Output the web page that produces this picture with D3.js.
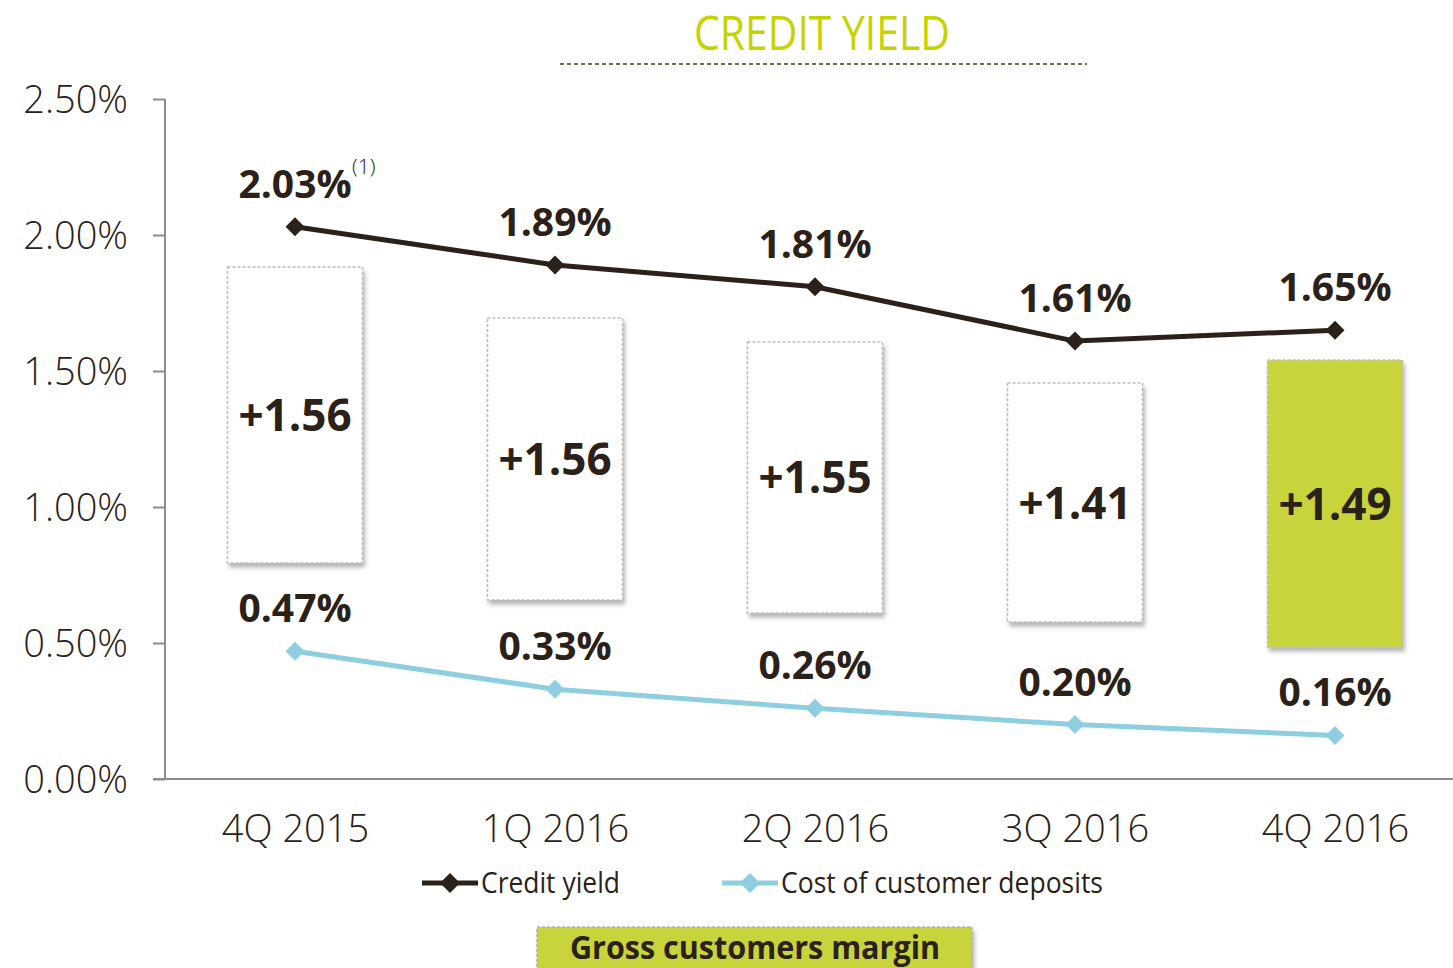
<!DOCTYPE html>
<html><head><meta charset="utf-8">
<script src="https://cdn.jsdelivr.net/npm/d3@7"></script>
<style>
html,body{margin:0;padding:0;background:#fff;}
svg{display:block;}
</style></head>
<body>
<svg id="chart" width="1453" height="968"></svg>
<script>
const categories = ["4Q 2015","1Q 2016","2Q 2016","3Q 2016","4Q 2016"];
const creditYield = [2.03, 1.89, 1.81, 1.61, 1.65];
const creditYieldLabels = ["2.03%","1.89%","1.81%","1.61%","1.65%"];
const depositCost = [0.47, 0.33, 0.26, 0.20, 0.16];
const depositCostLabels = ["0.47%","0.33%","0.26%","0.20%","0.16%"];
const marginLabels = ["+1.56","+1.56","+1.55","+1.41","+1.49"];
const boxTop = [1.882, 1.695, 1.607, 1.456, 1.540];
const boxBottom = [0.794, 0.658, 0.610, 0.577, 0.485];
const highlight = [false,false,false,false,true];
const yTicks = [0, 0.5, 1.0, 1.5, 2.0, 2.5];
const yTickLabels = ["0.00%","0.50%","1.00%","1.50%","2.00%","2.50%"];

const DARK = "#2b2118", CYAN = "#8dcfe0", LIME = "#c8d43a", TITLE = "#c5d300", AXIS = "#8c8c8c";
const LIGHTF = "'Open Sans', 'Noto Sans', sans-serif";
const NARROW = "'Open Sans', 'Noto Sans', sans-serif";

const svg = d3.select("#chart");
const defs = svg.append("defs");
const f = defs.append("filter").attr("id","shadow").attr("x","-10%").attr("y","-10%").attr("width","130%").attr("height","130%");
f.append("feDropShadow").attr("dx",2).attr("dy",4).attr("stdDeviation",2).attr("flood-color","#777").attr("flood-opacity",0.55);

const x = d3.scalePoint().domain(categories).range([165, 1465]).padding(0.5);
const y = d3.scaleLinear().domain([0, 2.5]).range([779, 99]);
const boxW = 135;

// Title
svg.append("text").attr("x", 694).attr("y", 50)
  .attr("font-family", NARROW).attr("font-size", 47).attr("fill", TITLE)
  .attr("textLength", 256).attr("lengthAdjust","spacingAndGlyphs").text("CREDIT YIELD");
svg.append("line").attr("x1",560).attr("x2",1087).attr("y1",64).attr("y2",64)
  .attr("stroke","#7a6648").attr("stroke-width",2).attr("stroke-dasharray","4,3");

// Y axis
const yAxis = d3.axisLeft(y).tickValues(yTicks).tickSize(12).tickFormat((d,i)=>yTickLabels[i]);
const gy = svg.append("g").attr("transform","translate(165,0)").call(yAxis);
gy.select(".domain").attr("stroke", AXIS).attr("stroke-width",2).attr("d","M0,99V779");
gy.selectAll(".tick line").attr("stroke", AXIS).attr("stroke-width",2);
gy.selectAll(".tick text").attr("x",-37).attr("dy","0.36em").attr("font-family",LIGHTF).attr("font-weight",300)
  .attr("font-size",38).attr("fill",DARK);

// X axis
const xAxis = d3.axisBottom(x).tickSize(0).tickPadding(0);
const gx = svg.append("g").attr("transform","translate(0,779)").call(xAxis);
gx.select(".domain").attr("stroke", AXIS).attr("stroke-width",2).attr("d","M153,0H1453");
gx.selectAll(".tick text").attr("y",63).attr("dy",0).attr("font-family",LIGHTF).attr("font-weight",300)
  .attr("font-size",38).attr("fill",DARK);

// Boxes
const boxes = svg.append("g");
categories.forEach((c,i)=>{
  const cx = x(c);
  boxes.append("rect").attr("x", cx - boxW/2).attr("y", y(boxTop[i]))
    .attr("width", boxW).attr("height", y(boxBottom[i]) - y(boxTop[i]))
    .attr("fill", highlight[i] ? LIME : "#fff")
    .attr("stroke", "#c4bcb4").attr("stroke-width",1.5).attr("stroke-dasharray","3,2")
    .attr("filter","url(#shadow)");
  const mid = (y(boxTop[i]) + y(boxBottom[i]))/2;
  boxes.append("text").attr("x", cx).attr("y", mid + 16).attr("text-anchor","middle")
    .attr("font-family",LIGHTF).attr("font-weight",700).attr("font-size",44).attr("fill",DARK)
    .text(marginLabels[i]);
});

// Lines
function diamond(g, cx, cy, r, color){
  g.append("path").attr("d", `M${cx},${cy-r}L${cx+r},${cy}L${cx},${cy+r}L${cx-r},${cy}Z`).attr("fill", color);
}
const line = d3.line().x((d,i)=>x(categories[i])).y(d=>y(d));
const lg = svg.append("g");
lg.append("path").datum(depositCost).attr("d", line).attr("fill","none").attr("stroke",CYAN).attr("stroke-width",5);
lg.append("path").datum(creditYield).attr("d", line).attr("fill","none").attr("stroke",DARK).attr("stroke-width",5);
categories.forEach((c,i)=>{
  diamond(lg, x(c), y(depositCost[i]), 9.5, CYAN);
  diamond(lg, x(c), y(creditYield[i]), 9.5, DARK);
  lg.append("text").attr("x", x(c)).attr("y", y(creditYield[i]) - 29).attr("text-anchor","middle")
    .attr("font-family",LIGHTF).attr("font-weight",700).attr("font-size",39).attr("fill",DARK).text(creditYieldLabels[i]);
  lg.append("text").attr("x", x(c)).attr("y", y(depositCost[i]) - 29).attr("text-anchor","middle")
    .attr("font-family",LIGHTF).attr("font-weight",700).attr("font-size",39).attr("fill",DARK).text(depositCostLabels[i]);
});
// footnote superscript
lg.append("text").attr("x", x(categories[0]) + 57).attr("y", y(creditYield[0]) - 53)
  .attr("font-family",LIGHTF).attr("font-weight",300).attr("font-size",21).attr("fill",DARK).text("(1)");

// Legend
const legendItems = [
  {label:"Credit yield", color:DARK, x:422, w:139},
  {label:"Cost of customer deposits", color:CYAN, x:722, w:322}
];
const leg = svg.append("g");
legendItems.forEach(it=>{
  leg.append("line").attr("x1",it.x).attr("x2",it.x+56).attr("y1",883).attr("y2",883)
    .attr("stroke",it.color).attr("stroke-width",5);
  diamond(leg, it.x+28, 883, 10, it.color);
  leg.append("text").attr("x", it.x+59).attr("y", 893).attr("font-family",NARROW)
    .attr("font-size",29).attr("fill",DARK)
    .attr("textLength", it.w).attr("lengthAdjust","spacingAndGlyphs").text(it.label);
});

// Bottom label box
svg.append("rect").attr("x",537).attr("y",927).attr("width",435).attr("height",50)
  .attr("fill",LIME).attr("stroke","#b8b0a8").attr("stroke-width",1.5).attr("stroke-dasharray","3,2")
  .attr("filter","url(#shadow)");
svg.append("text").attr("x",570).attr("y",959)
  .attr("font-family",NARROW).attr("font-weight",700).attr("font-size",32).attr("fill",DARK)
  .attr("textLength", 370).attr("lengthAdjust","spacingAndGlyphs")
  .text("Gross customers margin");
</script>
</body></html>
